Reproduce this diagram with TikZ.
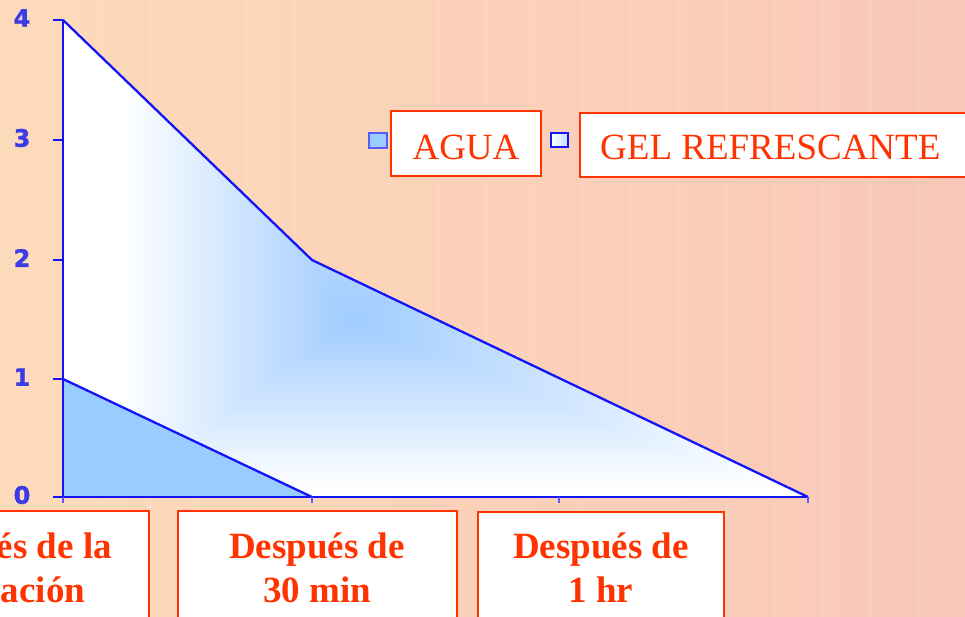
\documentclass[tikz,border=0pt]{standalone}
\usepackage{fontspec}
\setmainfont{Liberation Serif}
\newfontfamily\numfont[FakeBold=1.5]{DejaVu Sans}
\definecolor{bgL}{RGB}{253,219,186}
\definecolor{bgR}{RGB}{249,200,184}
\definecolor{redo}{RGB}{255,51,0}
\definecolor{axblue}{RGB}{20,20,250}
\definecolor{numblue}{RGB}{60,60,230}
\definecolor{agua}{RGB}{153,204,255}
\pgfdeclarefunctionalshading{gelshade}{\pgfpointorigin}{\pgfpoint{100bp}{100bp}}{}{%
  dup 43.55 sub 31.4 div exch 43.55 exch sub 17.8 div 2 copy sub abs add add 2 div
  exch
  dup 44.26 sub 28.2 div exch 44.26 exch sub 15.4 div 2 copy sub abs add add 2 div
  2 copy sub abs add add 2 div
  1 exch sub dup abs add 2 div
  dup 0.37 mul 1 exch sub exch 0.2 mul 1 exch sub 1
}
\tikzset{
  labbox/.style={draw=redo, line width=2.3pt, fill=white},
  labtxt/.style={text=redo, font=\fontsize{37}{43}\selectfont, inner sep=0pt, anchor=base},
  cattxt/.style={text=redo, font=\fontsize{37}{44}\selectfont\bfseries, inner sep=0pt, align=center, anchor=base},
  ynum/.style={text=numblue, font=\numfont\bfseries\fontsize{24}{24}\selectfont, inner sep=0pt},
  axis/.style={draw=axblue, line width=2.8pt},
  series/.style={draw=axblue, line width=2.3pt, line join=round},
}
\begin{document}
\begin{tikzpicture}[x=1pt,y=-1pt]
\useasboundingbox (0,0) rectangle (965,617);
\shade[left color=bgL, right color=bgR] (0,0) rectangle (965,617);
\foreach \xx in {6,54,102,150,198,246,294,342,390,438,486,534,582,630,678,726,774,822,870,918}
  \draw[white, opacity=0.18, line width=0.8pt] (\xx,0) -- (\xx,617);
% gel area
\fill[white] (63,20) -- (312,260) -- (808,497) -- (63,497) -- cycle;
\begin{scope}
  \clip (63,20) -- (312,260) -- (808,497) -- (63,497) -- cycle;
  \shade[shading=gelshade] (63,20) rectangle (808,497);
\end{scope}
\draw[series] (63,20) -- (312,260) -- (808,497);
% agua area
\fill[agua] (63,379) -- (312,497) -- (63,497) -- cycle;
\draw[series] (63,379) -- (312,497);
% axes
\coordinate (o) at (63,497);
\coordinate (ytop) at (63,20);
\coordinate (xend) at (808,497);
\draw[axis] (ytop) -- (o) -- (xend);
\foreach \yy/\lab in {20/4,140/3,260/2,379/1,497/0} {
  \draw[axis, line width=2.4pt] (53,\yy) -- (63,\yy);
  \node[ynum] (y\lab) at (22,\yy-2) {\lab};
}
\foreach \xx in {63,312,559,808}
  \draw[draw=axblue!70, line width=1.6pt] (\xx,497) -- (\xx,503);
% legend
\draw[fill=agua, draw=axblue!70, line width=1.4pt] (369,133) rectangle (387,148);
\draw[labbox] (391,111) rectangle (541,176);
\node[labtxt] (agua) at (466,160) {AGUA};
\shade[left color=white, right color=agua!60, draw=axblue, line width=1.8pt] (551,133) rectangle (568,147);
\draw[labbox] (580,113) rectangle (975,177);
\node[labtxt, anchor=base west] (gel) at (600,160) {GEL REFRESCANTE};
% category boxes
\draw[labbox] (-135,511) rectangle (149,630);
\node[cattxt] (c1) at (5,602) {Después de la\\aplicación};
\draw[labbox] (178,511) rectangle (457,630);
\node[cattxt] (c2) at (317,602) {Después de\\30 min};
\draw[labbox] (478,512) rectangle (724,630);
\node[cattxt] (c3) at (601,602) {Después de\\1 hr};
\end{tikzpicture}
\end{document}
